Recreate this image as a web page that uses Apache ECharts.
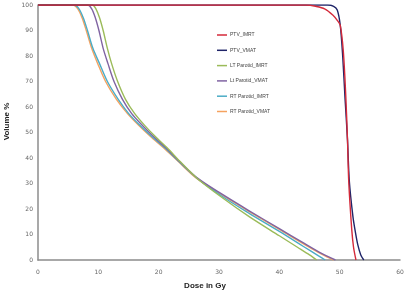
<!DOCTYPE html>
<html>
<head>
<meta charset="utf-8">
<script src="https://cdn.jsdelivr.net/npm/echarts@6/dist/echarts.min.js"></script>
<style>html,body{margin:0;padding:0;background:#fff;}#c{width:406px;height:291px;}</style>
</head>
<body>
<div id="c"></div>
<script>
const seriesNames = ["PTV_IMRT", "PTV_VMAT", "LT Parotid_IMRT", "Lt Parotid_VMAT", "RT Parotid_IMRT", "RT Parotid_VMAT"];
const seriesColors = ["#D42A3A", "#1F2468", "#9BBB59", "#8064A2", "#4BACC6", "#F5A25F"];

const ptvImrtDose = [0, 44.5, 46, 47.5, 48.9, 49.6, 50.1, 50.6, 51.0, 51.3, 51.5, 52.0, 52.3, 52.7];
const ptvImrtVol  = [100, 100, 99.5, 98.5, 96, 94, 92, 82, 65, 47, 31, 12, 5, 0];

const ptvVmatDose = [0, 48, 49, 49.6, 50.1, 50.5, 50.9, 51.3, 51.6, 52.2, 52.6, 53.0, 53.5, 54.0];
const ptvVmatVol  = [100, 100, 99.5, 98, 92, 80, 63, 47, 31, 17, 11, 6, 2, 0];

const ltImrtDose = [0, 9.0, 9.6, 10.2, 10.8, 11.5, 12.2, 13.2, 14.5, 16.0, 17.6, 19.4, 21.4, 23.6, 26.5, 30.5, 35, 40, 43, 45, 46.2];
const ltImrtVol  = [100, 100, 98.5, 95, 90, 83, 77, 70, 63, 57.5, 53, 48.5, 44, 38.5, 31.8, 24.5, 17, 9.5, 5, 2, 0];

const ltVmatDose = [0, 8.2, 8.9, 9.5, 10.1, 10.8, 11.6, 12.6, 14.0, 15.5, 17.2, 19.1, 21.2, 23.5, 26.5, 30.5, 35, 40, 44, 47, 49.3];
const ltVmatVol  = [100, 100, 98.5, 95, 90, 83, 77, 70, 63, 57.5, 53, 48.5, 44, 38.5, 32, 25.8, 19.3, 12.3, 6.7, 2.6, 0];

const rtImrtDose = [0, 6.0, 6.8, 7.5, 8.2, 9.1, 10.2, 11.5, 13.3, 15.0, 16.8, 18.8, 21.0, 23.4, 26.4, 30.5, 35, 40, 44, 46.5, 47.6];
const rtImrtVol  = [100, 100, 98.5, 95, 90, 83, 77, 70, 63, 57.5, 53, 48.5, 44, 38.5, 32, 25, 18.3, 11.2, 5.3, 1.6, 0];

const rtVmatDose = [0, 5.8, 6.6, 7.3, 8.0, 8.9, 9.9, 11.2, 13.0, 14.8, 16.6, 18.6, 20.8, 23.3, 26.3, 30.5, 35, 40, 44, 47, 49.0];
const rtVmatVol  = [100, 100, 98.5, 95, 90, 83, 77, 70, 63, 57.5, 53, 48.5, 44, 38.5, 32, 25.5, 19, 12, 6.3, 2.3, 0];

const xTicks = [0, 10, 20, 30, 40, 50, 60];
const yTicks = [0, 10, 20, 30, 40, 50, 60, 70, 80, 90, 100];

const allDose = [ptvImrtDose, ptvVmatDose, ltImrtDose, ltVmatDose, rtImrtDose, rtVmatDose];
const allVol = [ptvImrtVol, ptvVmatVol, ltImrtVol, ltVmatVol, rtImrtVol, rtVmatVol];

const zip = (a, b) => a.map((v, i) => [v, b[i]]);

const chart = echarts.init(document.getElementById('c'), null, {renderer: 'canvas'});
const axisGray = '#8C8C8C';
chart.setOption({
  animation: false,
  backgroundColor: '#fff',
  grid: {left: 38, right: 6, top: 5, bottom: 31, containLabel: false, outerBoundsMode: 'none'},
  xAxis: {
    type: 'value', min: xTicks[0], max: xTicks[xTicks.length - 1], interval: 10,
    name: 'Dose in Gy', nameLocation: 'middle', nameGap: 22,
    nameTextStyle: {fontFamily: 'Liberation Sans', fontWeight: 'bold', fontSize: 8, color: '#222', padding: [0, 28, 0, 0]},
    axisLine: {lineStyle: {color: axisGray, width: 1.5}},
    axisTick: {show: false},
    splitLine: {show: false},
    axisLabel: {fontFamily: 'DejaVu Sans', fontSize: 6, color: '#666', margin: 9}
  },
  yAxis: {
    type: 'value', min: yTicks[0], max: yTicks[yTicks.length - 1], interval: 10,
    name: 'Volume %', nameLocation: 'middle', nameGap: 27, nameRotate: 90,
    nameTextStyle: {fontFamily: 'Liberation Sans', fontWeight: 'bold', fontSize: 8, color: '#222', padding: [0, 0, 0, 22]},
    axisLine: {show: true, lineStyle: {color: axisGray, width: 1.5}},
    axisTick: {show: false},
    splitLine: {show: false},
    axisLabel: {fontFamily: 'DejaVu Sans', fontSize: 6, color: '#666', margin: 5}
  },
  legend: {
    orient: 'vertical', left: 212, top: 27,
    icon: 'rect', itemWidth: 10, itemHeight: 1.5, itemGap: 9.3,
    textStyle: {fontFamily: 'Liberation Sans', fontSize: 5, color: '#444', lineHeight: 6, padding: [0, 0, 0, -2]},
    data: seriesNames
  },
  series: seriesNames.map((n, i) => ({
    name: n, type: 'line', data: zip(allDose[i], allVol[i]),
    smooth: 0.3, showSymbol: false, symbol: 'none',
    lineStyle: {color: seriesColors[i], width: 1.4},
    itemStyle: {color: seriesColors[i]},
    z: 10 - i
  }))
});
</script>
</body>
</html>
